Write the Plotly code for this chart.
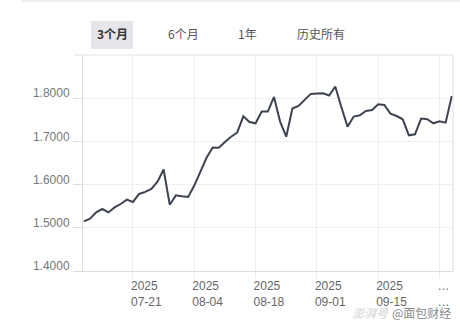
import plotly.graph_objects as go

dates = [
    "2025-07-09", "2025-07-10", "2025-07-11", "2025-07-14", "2025-07-15", "2025-07-16",
    "2025-07-17", "2025-07-18", "2025-07-21", "2025-07-22", "2025-07-23", "2025-07-24",
    "2025-07-25", "2025-07-28", "2025-07-29", "2025-07-30", "2025-07-31", "2025-08-01",
    "2025-08-04", "2025-08-05", "2025-08-06", "2025-08-07", "2025-08-08", "2025-08-11",
    "2025-08-12", "2025-08-13", "2025-08-14", "2025-08-15", "2025-08-18", "2025-08-19",
    "2025-08-20", "2025-08-21", "2025-08-22", "2025-08-25", "2025-08-26", "2025-08-27",
    "2025-08-28", "2025-08-29", "2025-09-01", "2025-09-02", "2025-09-03", "2025-09-04",
    "2025-09-05", "2025-09-08", "2025-09-09", "2025-09-10", "2025-09-11", "2025-09-12",
    "2025-09-15", "2025-09-16", "2025-09-17", "2025-09-18", "2025-09-19", "2025-09-22",
    "2025-09-23", "2025-09-24", "2025-09-25", "2025-09-26", "2025-09-29", "2025-09-30",
    "2025-10-09",
]

nav = [
    1.5147, 1.5209, 1.5356, 1.5435, 1.5356, 1.5472, 1.5551, 1.5651, 1.5598, 1.5784,
    1.5830, 1.5900, 1.6070, 1.6349, 1.5535, 1.5751, 1.5728, 1.5714, 1.5977, 1.6309,
    1.6621, 1.6860, 1.6853, 1.6984, 1.7109, 1.7202, 1.7581, 1.7449, 1.7419, 1.7691,
    1.7691, 1.8030, 1.7458, 1.7109, 1.7760, 1.7821, 1.7960, 1.8100, 1.8109, 1.8116,
    1.8063, 1.8272, 1.7791, 1.7342, 1.7574, 1.7605, 1.7705, 1.7728, 1.7860, 1.7844,
    1.7644, 1.7588, 1.7512, 1.7140, 1.7163, 1.7528, 1.7512, 1.7419, 1.7465, 1.7435,
    1.8053,
]

x_tick_dates = ["2025-07-21", "2025-08-04", "2025-08-18", "2025-09-01", "2025-09-15", "2025-09-29"]
x_tick_text = ["2025<br>07-21", "2025<br>08-04", "2025<br>08-18", "2025<br>09-01", "2025<br>09-15", "…<br>…"]
y_tick_vals = [1.4, 1.5, 1.6, 1.7, 1.8]
y_tick_text = ["1.4000", "1.5000", "1.6000", "1.7000", "1.8000"]
tabs = ["3个月", "6个月", "1年", "历史所有"]

idx = list(range(len(dates)))
tick_idx = [dates.index(d) for d in x_tick_dates]

fig = go.Figure()
fig.add_trace(go.Scatter(
    x=idx, y=nav, mode="lines",
    line=dict(color="#3d4350", width=2),
    hoverinfo="skip", showlegend=False,
))

W, H = 460, 326
L, R, T, B = 83, 7, 55, 55
pw, ph = W - L - R, H - T - B


def px(xp):
    return (xp - L) / pw


def py(yp):
    return (H - B - yp) / ph


fig.update_layout(
    width=W, height=H,
    margin=dict(l=L, r=R, t=T, b=B),
    paper_bgcolor="white", plot_bgcolor="white",
    font=dict(family="Liberation Sans, Arial, sans-serif", size=12, color="#666"),
    xaxis=dict(
        range=[-0.15, 60.2],
        tickmode="array", tickvals=tick_idx, ticktext=x_tick_text,
        ticklabelposition="outside right",
        ticklabelshift=-3, ticklabelstandoff=4,
        showgrid=True, gridcolor="#f0f0f0", gridwidth=1,
        showline=True, linecolor="#dddddd", linewidth=1,
        ticks="outside", ticklen=6, tickcolor="#eeeeee",
        tickfont=dict(size=12, color="#666"),
        zeroline=False, fixedrange=True,
    ),
    yaxis=dict(
        range=[1.4, 1.9],
        tickmode="array", tickvals=y_tick_vals, ticktext=y_tick_text,
        ticklabelposition="outside",
        ticklabelshift=-5, ticklabelstandoff=1,
        showgrid=True, gridcolor="#f0f0f0", gridwidth=1,
        showline=True, linecolor="#dddddd", linewidth=1,
        ticks="outside", ticklen=9, tickcolor="#dddddd",
        tickfont=dict(size=12, color="#777"),
        zeroline=False, fixedrange=True,
    ),
)

shapes = [
    dict(type="line", xref="paper", yref="paper", x0=px(22), x1=px(460), y0=py(1), y1=py(1),
         line=dict(color="#eeeeee", width=2)),
    dict(type="line", xref="paper", yref="paper", x0=px(74), x1=1, y0=1, y1=1,
         line=dict(color="#e2e2e2", width=1)),
    dict(type="line", xref="paper", yref="paper", x0=1, x1=1, y0=0, y1=1,
         line=dict(color="#dddddd", width=1)),
    dict(type="rect", xref="paper", yref="paper", x0=px(91), x1=px(133), y0=py(49), y1=py(21),
         fillcolor="#e4e6ea", line=dict(width=0), layer="below"),
]
fig.update_layout(shapes=shapes)

tab_centers = [112, 183.5, 247.5, 321]
annotations = []
for i, (t, cx) in enumerate(zip(tabs, tab_centers)):
    annotations.append(dict(
        text=("<b>%s</b>" % t) if i == 0 else t,
        xref="paper", yref="paper", x=px(cx), y=py(34),
        xanchor="center", yanchor="middle", showarrow=False,
        font=dict(family="Noto Sans CJK SC, sans-serif", size=12,
                  color="#333" if i == 0 else "#555"),
    ))
annotations.append(dict(
    text="<i><b>澎湃号</b></i>", xref="paper", yref="paper", x=px(370), y=py(312),
    xanchor="center", yanchor="middle", showarrow=False,
    font=dict(family="Noto Sans CJK SC, sans-serif", size=12, color="#e0e0e0"),
))
annotations.append(dict(
    text="@面包财经", xref="paper", yref="paper", x=px(421), y=py(312),
    xanchor="center", yanchor="middle", showarrow=False,
    font=dict(family="Noto Sans CJK SC, sans-serif", size=12, color="#888"),
))
fig.update_layout(annotations=annotations)

fig.write_html("out.html")
